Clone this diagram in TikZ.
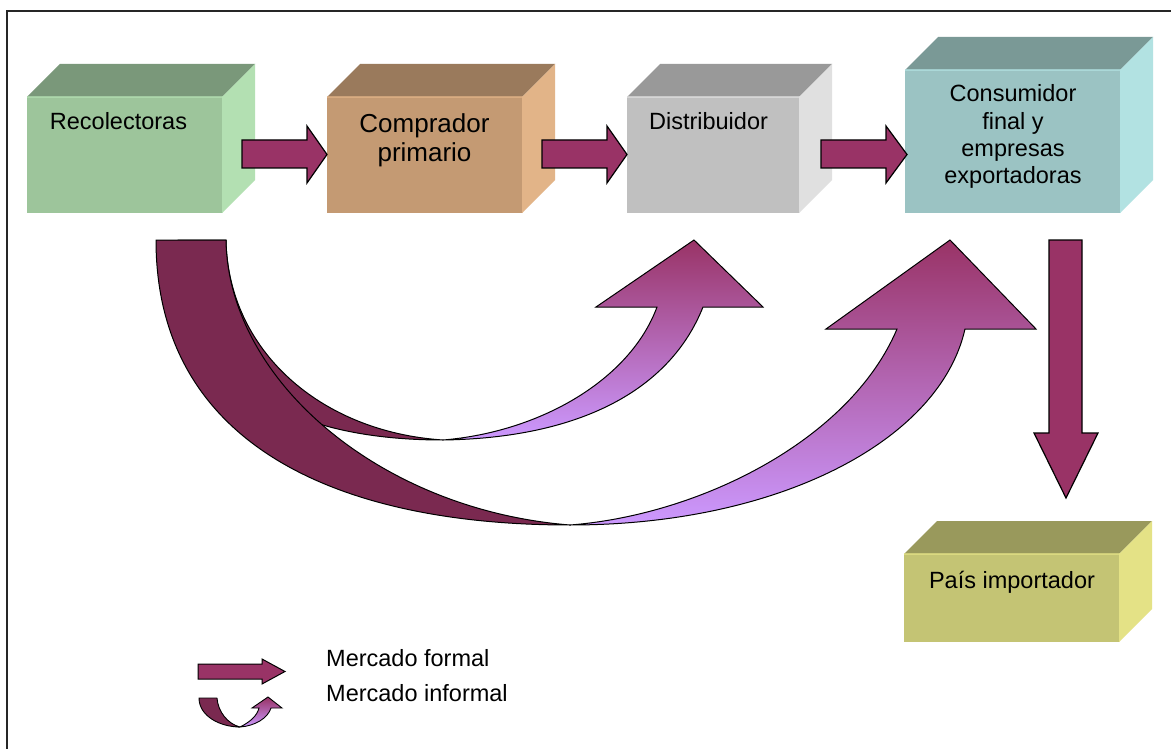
\documentclass[tikz,border=0pt]{standalone}
\usepackage{fontspec}
\setmainfont{Liberation Sans}
\definecolor{arrowM}{RGB}{153,51,102}
\definecolor{darkM}{RGB}{122,41,80}
\definecolor{lav}{RGB}{204,153,255}
\definecolor{recF}{RGB}{157,197,155}\definecolor{recT}{RGB}{122,152,122}\definecolor{recS}{RGB}{179,224,178}
\definecolor{comF}{RGB}{196,154,115}\definecolor{comT}{RGB}{154,122,92}\definecolor{comS}{RGB}{226,180,136}
\definecolor{disF}{RGB}{192,192,192}\definecolor{disT}{RGB}{153,153,153}\definecolor{disS}{RGB}{224,224,224}
\definecolor{conF}{RGB}{155,195,195}\definecolor{conT}{RGB}{122,153,150}\definecolor{conS}{RGB}{178,226,226}
\definecolor{paiF}{RGB}{196,196,116}\definecolor{paiT}{RGB}{153,153,92}\definecolor{paiS}{RGB}{228,226,134}
\newcommand\mycube[8]{%
  \fill[#7] (#2,#3) -- ({#2+33},{#3-33}) -- ({#4+33},{#3-33}) -- (#4,#3) -- cycle;
  \fill[#8] (#4,#3) -- ({#4+33},{#3-33}) -- ({#4+33},{#5-33}) -- (#4,#5) -- cycle;
  \node[fill=#6, inner sep=0pt, anchor=north west, minimum width={(#4)-(#2)}, minimum height={(#5)-(#3)}] (#1) at (#2,#3) {};
  \draw[#8, line width=1.5pt, opacity=0.7] (#1.north west) -- (#1.north east) -- (#1.south east);
}
\newcommand\myharrow[4]{% x0, xhead, xtip, name
  \path[flow] (#1,140) -- (#2,140) -- (#2,126) -- (#3,154.5) coordinate (#4) -- (#2,183) -- (#2,168) -- (#1,168) -- cycle;
}
\tikzset{
  flow/.style={fill=arrowM, draw=black, line width=1.2pt, line join=miter},
  crescent/.style={fill=darkM, draw=black, line width=1pt, line join=round},
  lightarrow/.style={top color=arrowM, bottom color=lav, draw=black, line width=1pt, line join=miter},
  lbl/.style={font=\fontsize{23.5}{27}\selectfont, anchor=base, inner sep=0pt},
  frame/.style={draw=black!85, line width=2pt}
}
\begin{document}
\begin{tikzpicture}[x=1pt,y=-1pt]
\useasboundingbox (0,0) rectangle (1171,749);
\fill[white] (0,0) rectangle (1171,749);
\draw[frame] (7,752) -- (7,11) -- (1174,11);

% boxes
\mycube{rec}{27}{97}{222}{213}{recF}{recT}{recS}
\mycube{com}{327}{97}{522}{213}{comF}{comT}{comS}
\mycube{dis}{627}{97}{799}{213}{disF}{disT}{disS}
\mycube{con}{905}{70}{1120}{213}{conF}{conT}{conS}
\mycube{pai}{904}{554}{1119}{642}{paiF}{paiT}{paiS}

% labels
\node[lbl] (recL) at (118.5,130) {Recolectoras};
\node[lbl, font=\fontsize{26}{30}\selectfont] (comL1) at (424.5,132.5) {Comprador};
\node[lbl, font=\fontsize{26}{30}\selectfont] (comL2) at (424.5,161.5) {primario};
\node[lbl] (disL) at (708.5,130) {Distribuidor};
\node[lbl] (conL1) at (1013,101.5) {Consumidor};
\node[lbl] (conL2) at (1013,129.5) {final y};
\node[lbl] (conL3) at (1013,157) {empresas};
\node[lbl] (conL4) at (1013,184) {exportadoras};
\node[lbl] (paiL) at (1012,588) {País importador};

% formal market arrows
\myharrow{242}{307}{327}{tipA}
\myharrow{542}{607}{627}{tipB}
\myharrow{821}{886}{907}{tipC}
\path[flow] (1049,240) -- (1082,240) -- (1082,433) -- (1098,433) -- (1066,498) coordinate (tipD) -- (1034,433) -- (1049,433) -- cycle;

% informal market arrow to Distribuidor
\path[lightarrow] (443,440) .. controls (540,432) and (630,380) .. (657,307) -- (596,307) -- (694,240) -- (763,307) -- (703,307) .. controls (670,390) and (580,438) .. (443,440) -- cycle;
\path[crescent] (178,240) -- (226,240) .. controls (228,350) and (320,432) .. (443,440) .. controls (300,440) and (180,390) .. (178,240) -- cycle;

% informal market arrow to Consumidor
\path[lightarrow] (570,525) .. controls (700,515) and (850,440) .. (897,329) -- (826,329) -- (950,240) -- (1036,329) -- (965,329) .. controls (940,440) and (780,525) .. (570,525) -- cycle;
\path[crescent] (156,240) -- (226,240) .. controls (228,380) and (380,510) .. (570,525) .. controls (330,525) and (156,440) .. (156,240) -- cycle;

% legend
\path[flow, line width=1pt] (198,664) -- (262,664) -- (262,659) -- (285,671.5) -- (262,684) -- (262,679) -- (198,679) -- cycle;
\path[lightarrow, line width=0.9pt] (240,727) .. controls (250,722) and (257,716) .. (259,708) -- (252,708) -- (268,697) -- (282,708) -- (271,708) .. controls (268,718) and (255,726) .. (240,727) -- cycle;
\path[crescent, line width=0.9pt] (199,698) -- (217,698) .. controls (218,712) and (228,724) .. (240,727) .. controls (220,727) and (199,716) .. (199,698) -- cycle;
\node[lbl, anchor=base west] (legF) at (326,666) {Mercado formal};
\node[lbl, anchor=base west] (legI) at (326,701.5) {Mercado informal};
\end{tikzpicture}
\end{document}
